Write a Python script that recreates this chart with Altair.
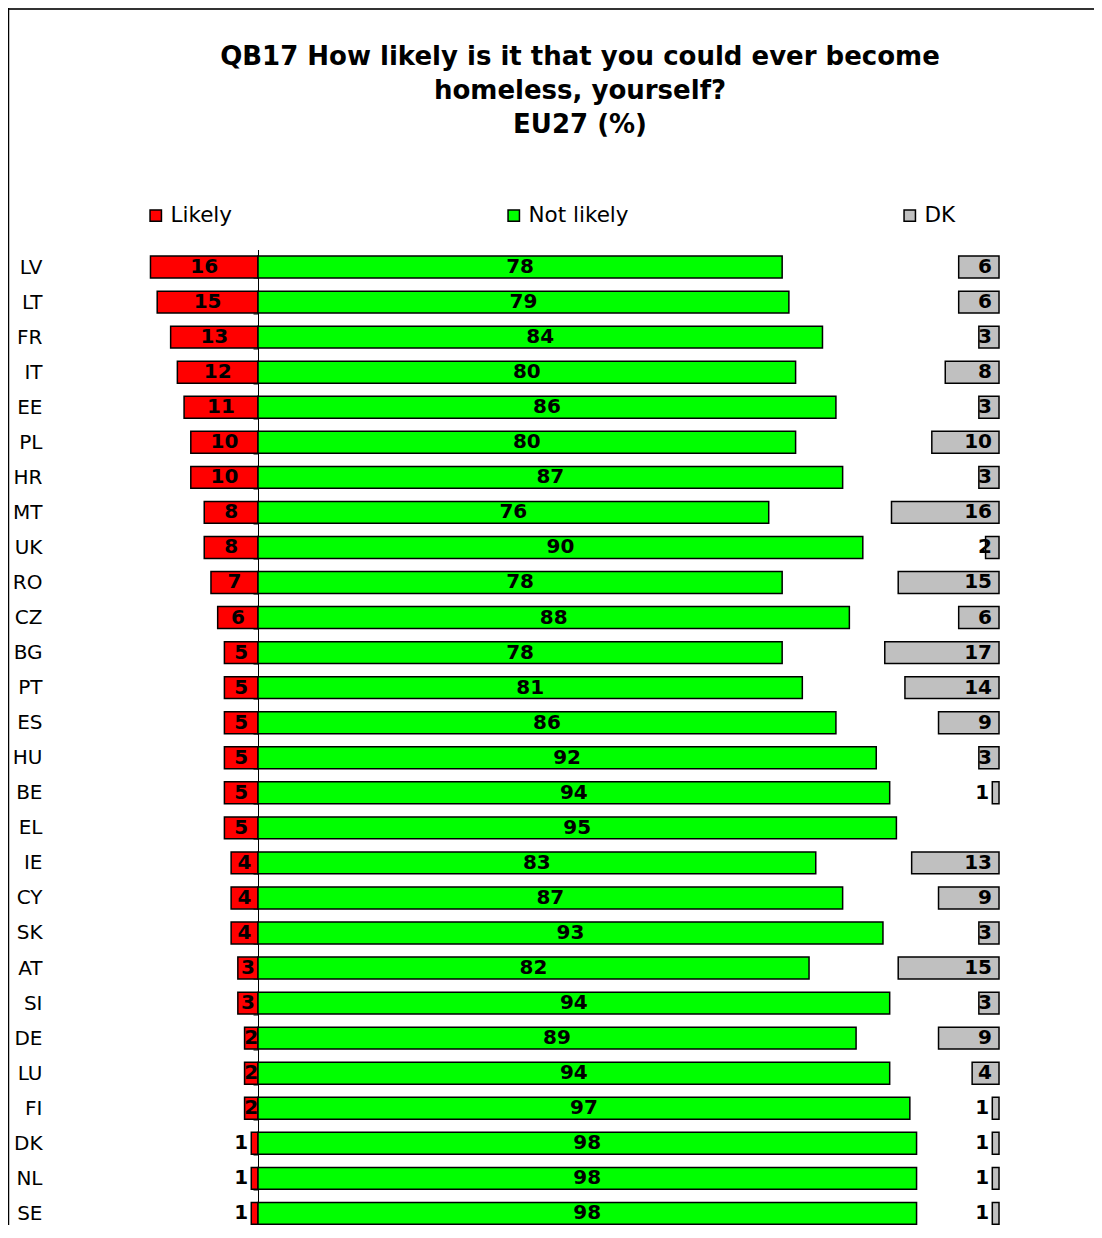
import altair as alt
import pandas as pd

countries = ["LV", "LT", "FR", "IT", "EE", "PL", "HR", "MT", "UK", "RO", "CZ", "BG", "PT", "ES",
             "HU", "BE", "EL", "IE", "CY", "SK", "AT", "SI", "DE", "LU", "FI", "DK", "NL", "SE"]
likely = [16, 15, 13, 12, 11, 10, 10, 8, 8, 7, 6, 5, 5, 5, 5, 5, 5, 4, 4, 4, 3, 3, 2, 2, 2, 1, 1, 1]
not_likely = [78, 79, 84, 80, 86, 80, 87, 76, 90, 78, 88, 78, 81, 86, 92, 94, 95, 83, 87, 93,
              82, 94, 89, 94, 97, 98, 98, 98]
dk = [6, 6, 3, 8, 3, 10, 3, 16, 2, 15, 6, 17, 14, 9, 3, 1, 0, 13, 9, 3, 15, 3, 9, 4, 1, 1, 1, 1]

categories = ["Likely", "Not likely", "DK"]
colors = ["#FF0000", "#00FF00", "#C0C0C0"]

title_lines = ["QB17 How likely is it that you could ever become", "homeless, yourself?", "EU27 (%)"]

# layout constants (pixels / scale)
PX = 6.72
W = 960
H = 975.5
XMIN = -208 / PX
XMAX = XMIN + W / PX
DK_END = 110.27
PAD_R = 84

bars, center_lbl, right_lbl_edge, right_lbl_end = [], [], [], []
for c, l, n, d in zip(countries, likely, not_likely, dk):
    bars.append(dict(country=c, cat="Likely", x=-l, x2=0))
    bars.append(dict(country=c, cat="Not likely", x=0, x2=n))
    if l >= 2:
        center_lbl.append(dict(country=c, x=-l / 2, t=str(l)))
    else:
        right_lbl_edge.append(dict(country=c, x=-l, t=str(l)))
    center_lbl.append(dict(country=c, x=n / 2, t=str(n)))
    if d > 0:
        bars.append(dict(country=c, cat="DK", x=DK_END - d, x2=DK_END))
        if d >= 2:
            right_lbl_end.append(dict(country=c, x=DK_END, t=str(d)))
        else:
            right_lbl_edge.append(dict(country=c, x=DK_END - d, t=str(d)))

bars = pd.DataFrame(bars)
center_lbl = pd.DataFrame(center_lbl)
right_lbl_edge = pd.DataFrame(right_lbl_edge)
right_lbl_end = pd.DataFrame(right_lbl_end)

xscale = alt.Scale(domain=[XMIN, XMAX], nice=False, zero=False)
yscale = alt.Scale(domain=countries, paddingInner=0.375, paddingOuter=0.1033, align=0.91)

yaxis = alt.Axis(title=None, offset=-208, domainColor="black", domainWidth=1,
                 tickColor="black", tickSize=5, tickBand="extent", labelPadding=211,
                 labelFont="DejaVu Sans", labelFontSize=20, labelColor="black",
                 labelAlign="right", grid=False)

bar_layer = alt.Chart(bars).mark_bar(stroke="black", strokeWidth=1.5).encode(
    y=alt.Y("country:N", scale=yscale, axis=yaxis, sort=countries),
    x=alt.X("x:Q", scale=xscale, axis=None),
    x2="x2:Q",
    color=alt.Color("cat:N", scale=alt.Scale(domain=categories, range=colors),
                    legend=alt.Legend(title=None, orient="none", direction="horizontal",
                                      legendX=95, legendY=-45, symbolType="square",
                                      symbolSize=130, symbolStrokeColor="black",
                                      symbolStrokeWidth=1.5, labelFont="DejaVu Sans",
                                      labelFontSize=21.5, labelColor="black", labelOffset=4,
                                      columnPadding=270)),
)

txt = dict(font="DejaVu Sans", fontWeight="bold", fontSize=20, color="black", baseline="middle")

c_layer = alt.Chart(center_lbl).mark_text(align="center", **txt).encode(
    y=alt.Y("country:N", scale=yscale, sort=countries), x=alt.X("x:Q", scale=xscale), text="t:N")
e_layer = alt.Chart(right_lbl_edge).mark_text(align="right", dx=-3, **txt).encode(
    y=alt.Y("country:N", scale=yscale, sort=countries), x=alt.X("x:Q", scale=xscale), text="t:N")
d_layer = alt.Chart(right_lbl_end).mark_text(align="right", dx=-7, **txt).encode(
    y=alt.Y("country:N", scale=yscale, sort=countries), x=alt.X("x:Q", scale=xscale), text="t:N")

frame_top = alt.Chart(pd.DataFrame({"a": [0]})).mark_rule(color="#333333", strokeWidth=2).encode(
    x=alt.value(-42), x2=alt.value(W + PAD_R), y=alt.value(-240.5))
frame_left = alt.Chart(pd.DataFrame({"a": [0]})).mark_rule(color="black", strokeWidth=1.5).encode(
    x=alt.value(-41.5), y=alt.value(-241.5), y2=alt.value(H + 20))

chart = alt.layer(frame_top, frame_left, bar_layer, c_layer, e_layer, d_layer).properties(
    width=W, height=H,
    autosize=alt.AutoSizeParams(type="none"),
    padding={"left": 42, "top": 241.5, "right": PAD_R, "bottom": 0},
    title=alt.TitleParams(text=title_lines, font="DejaVu Sans", fontWeight="bold", fontSize=26,
                          lineHeight=34, anchor="middle", dx=50, offset=0, dy=131, color="black"),
).configure(background="white").configure_view(stroke=None)

chart.save("out.html", embed_options={"renderer": "svg", "actions": False})
